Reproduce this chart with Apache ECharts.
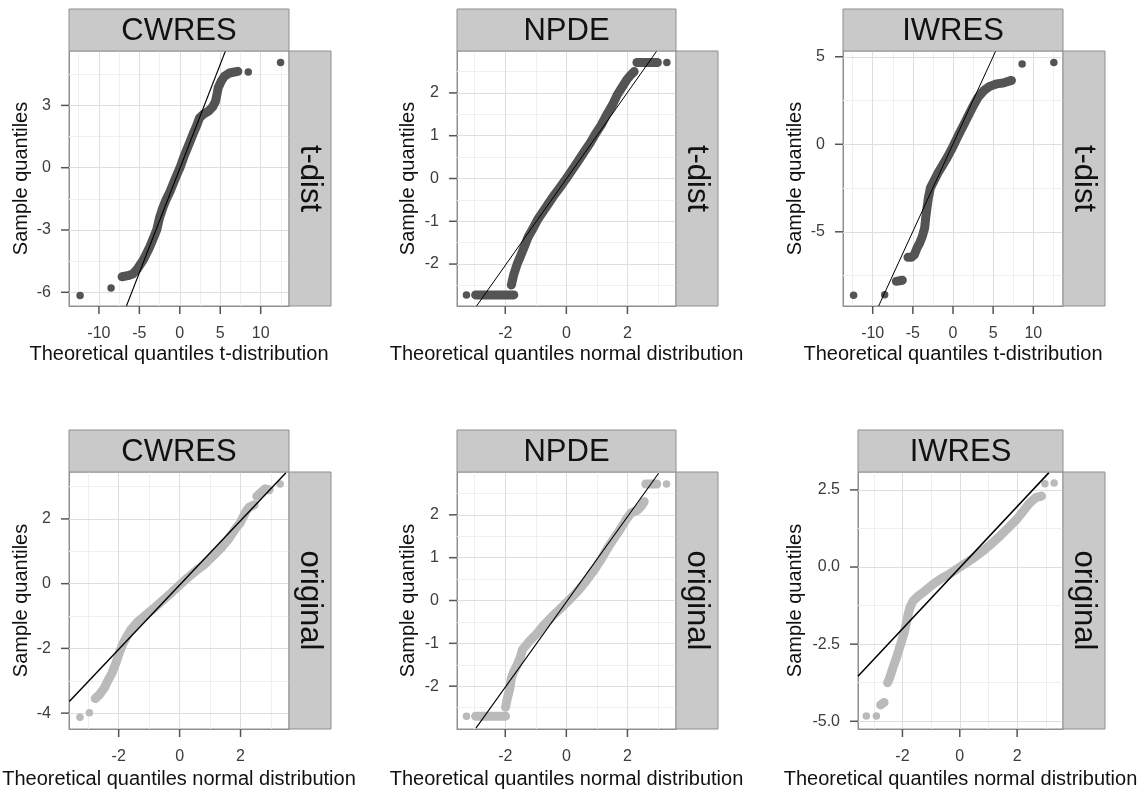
<!DOCTYPE html>
<html>
<head>
<meta charset="utf-8">
<title>QQ plots of residuals</title>
<script src="https://cdn.jsdelivr.net/npm/echarts@6/dist/echarts.min.js"></script>
<style>
  html, body { margin: 0; padding: 0; background: #ffffff; }
  #chart { width: 1142px; height: 792px; }
</style>
</head>
<body>
<div id="chart"></div>
<script>
// ---------- tick breaks ----------
const tdistXMajor = [-10, -5, 0, 5, 10];
const tdistXMinor = [-12.5, -7.5, -2.5, 2.5, 7.5, 12.5];
const normXMajor = [-2, 0, 2];
const normXMinor = [-3, -1, 1, 3];

const cwresTdistYMajor = [-6, -3, 0, 3];
const cwresTdistYMinor = [-4.5, -1.5, 1.5, 4.5];
const npdeYMajor = [-2, -1, 0, 1, 2];
const npdeYMinor = [-2.5, -1.5, -0.5, 0.5, 1.5, 2.5];
const iwresTdistYMajor = [-5, 0, 5];
const iwresTdistYMinor = [-7.5, -2.5, 2.5];
const cwresOrigYMajor = [-4, -2, 0, 2];
const cwresOrigYMinor = [-3, -1, 1, 3];
const iwresOrigYMajor = [-5, -2.5, 0, 2.5];
const iwresOrigYMinor = [-3.75, -1.25, 1.25];

// ---------- CWRES, t-distribution ----------
const cwresTdistRun = [[-7.14,-5.25],[-6.44,-5.2],[-5.82,-5.12],[-5.32,-4.91],[-4.91,-4.67],[-4.5,-4.43],[-3.75,-3.84],[-3.26,-3.39],[-2.85,-2.99],[-2.52,-2.43],[-2.11,-1.94],[-1.70,-1.54],[-1.20,-1.14],[-0.79,-0.74],[-0.33,-0.31],[0.08,0.06],[0.45,0.47],[0.86,0.87],[1.28,1.27],[1.69,1.67],[2.10,2.04],[2.43,2.39],[2.93,2.58],[3.59,2.74],[4.08,2.94],[4.41,3.19],[4.58,3.51],[4.74,3.84],[5.11,4.16],[5.52,4.40],[6.14,4.56],[6.76,4.61],[7.18,4.64]];
const cwresTdistTail = [[-12.33,-6.15],[-8.5,-5.79],[8.46,4.61],[12.46,5.07]];
const cwresTdistRef = [[-6.6,-6.66],[5.64,5.62]];

// ---------- NPDE, t-distribution ----------
const npdeTdistLow = [[-2.97,-2.72],[-2.75,-2.72],[-2.5,-2.72],[-2.25,-2.72],[-2.0,-2.72],[-1.72,-2.72]];
const npdeTdistRun = [[-1.80,-2.49],[-1.72,-2.24],[-1.61,-2.00],[-1.50,-1.81],[-1.39,-1.62],[-1.26,-1.38],[-1.08,-1.15],[-0.93,-0.95],[-0.75,-0.76],[-0.57,-0.57],[-0.38,-0.37],[-0.18,-0.18],[0,0],[0.20,0.21],[0.38,0.40],[0.58,0.62],[0.78,0.83],[0.96,1.05],[1.15,1.26],[1.32,1.49],[1.51,1.72],[1.67,1.96],[1.84,2.15],[1.98,2.31],[2.11,2.42],[2.22,2.50]];
const npdeTdistHigh = [[2.31,2.71],[2.5,2.71],[2.7,2.71],[2.98,2.71]];
const npdeTdistTail = [[-3.27,-2.72],[3.29,2.71]];
const npdeTdistRef = [[-2.94,-2.98],[2.96,2.98]];

// ---------- IWRES, t-distribution ----------
const iwresTdistPair = [[-7.06,-7.83],[-6.31,-7.77]];
const iwresTdistRun = [[-5.61,-6.46],[-5.19,-6.46],[-4.8,-6.3],[-4.49,-5.93],[-4.15,-5.64],[-3.82,-5.26],[-3.53,-4.78],[-3.40,-4.21],[-3.24,-3.64],[-3.07,-3.07],[-2.82,-2.50],[-2.41,-2.12],[-1.87,-1.64],[-1.25,-1.16],[-0.75,-0.78],[-0.20,-0.31],[0.21,0.07],[0.71,0.55],[1.25,1.03],[1.87,1.60],[2.50,2.17],[3.12,2.68],[3.83,3.06],[4.57,3.31],[5.40,3.45],[6.24,3.50],[7.28,3.65]];
const iwresTdistTail = [[-12.38,-8.63],[-8.51,-8.6],[8.61,4.59],[12.56,4.68]];
const iwresTdistRef = [[-9.26,-9.24],[5.32,5.33]];

// ---------- CWRES, original ----------
const cwresOrigRun = [[-2.77,-3.55],[-2.63,-3.43],[-2.47,-3.22],[-2.36,-3.01],[-2.22,-2.76],[-2.09,-2.45],[-1.98,-2.14],[-1.87,-1.88],[-1.76,-1.68],[-1.60,-1.42],[-1.38,-1.18],[-1.10,-0.96],[-0.83,-0.75],[-0.56,-0.52],[-0.28,-0.29],[-0.01,-0.05],[0.26,0.18],[0.54,0.40],[0.81,0.59],[1.08,0.84],[1.36,1.10],[1.63,1.41],[1.85,1.72],[1.98,1.87],[2.07,2.03],[2.18,2.24],[2.28,2.36],[2.45,2.44]];
const cwresOrigHigh = [[2.53,2.70],[2.72,2.86],[2.81,2.93],[2.94,2.90]];
const cwresOrigTail = [[-3.27,-4.13],[-2.96,-3.99],[3.30,3.08]];
const cwresOrigRef = [[-3.62,-3.64],[3.49,3.43]];

// ---------- NPDE, original ----------
const npdeOrigLow = [[-2.97,-2.70],[-2.75,-2.70],[-2.5,-2.70],[-2.25,-2.70],[-1.99,-2.70]];
const npdeOrigRun = [[-1.99,-2.49],[-1.93,-2.28],[-1.85,-2.05],[-1.80,-1.81],[-1.72,-1.66],[-1.61,-1.50],[-1.50,-1.31],[-1.44,-1.15],[-1.22,-0.96],[-0.95,-0.76],[-0.73,-0.57],[-0.46,-0.37],[-0.18,-0.18],[0.09,0.01],[0.36,0.21],[0.63,0.44],[0.91,0.71],[1.13,0.95],[1.35,1.22],[1.56,1.45],[1.78,1.68],[1.95,1.88],[2.11,2.04],[2.33,2.11],[2.44,2.19],[2.55,2.31]];
const npdeOrigHigh = [[2.60,2.72],[2.78,2.72],[2.96,2.72]];
const npdeOrigTail = [[-3.27,-2.70],[3.28,2.72]];
const npdeOrigRef = [[-2.96,-2.98],[3.02,2.97]];

// ---------- IWRES, original ----------
const iwresOrigPair = [[-2.76,-4.47],[-2.64,-4.39]];
const iwresOrigRun = [[-2.52,-3.75],[-2.44,-3.58],[-2.33,-3.26],[-2.21,-2.94],[-2.13,-2.70],[-2.03,-2.40],[-1.94,-2.13],[-1.86,-1.80],[-1.80,-1.53],[-1.74,-1.32],[-1.63,-1.10],[-1.45,-0.94],[-1.22,-0.78],[-0.93,-0.56],[-0.64,-0.37],[-0.35,-0.22],[-0.06,-0.04],[0.23,0.14],[0.52,0.32],[0.81,0.52],[1.10,0.75],[1.40,1.00],[1.69,1.27],[1.98,1.54],[2.21,1.81],[2.44,2.08],[2.67,2.26],[2.85,2.30]];
const iwresOrigTail = [[-3.26,-4.83],[-2.91,-4.83],[2.97,2.70],[3.29,2.72]];
const iwresOrigRef = [[-3.55,-3.54],[3.11,3.06]];

// ---------- styling ----------
const FONT = '"Liberation Sans", Arial, Helvetica, sans-serif';
const DARK = '#545454';
const LIGHT = '#bababa';
const BORDER = '#8f8f8f';
const TICK_LINE = '#555555';
const TICK_LEN = 8;
const TICK_W = 1.5;
const STRIP_FILL = '#c9c9c9';
const MAJOR_GRID = '#dedede';
const MINOR_GRID = '#efefef';
const TICK_TEXT = '#3c3c3c';
const TITLE_TEXT = '#111111';

const T_NAME = 'Theoretical quantiles t-distribution';
const N_NAME = 'Theoretical quantiles normal distribution';

const panels = [
  { title: 'CWRES', facet: 't-dist', box: [69, 51, 220, 255], xRange: [-13.7, 13.5], yRange: [-6.66, 5.62],
    xMajor: tdistXMajor, xMinor: tdistXMinor, yMajor: cwresTdistYMajor, yMinor: cwresTdistYMinor,
    runs: [cwresTdistRun], tail: cwresTdistTail, ref: cwresTdistRef, color: DARK, xName: T_NAME, yGap: 37.5, xGap: 38.5, refWidth: 1.1 },
  { title: 'NPDE', facet: 't-dist', box: [457, 51, 219, 255], xRange: [-3.58, 3.59], yRange: [-2.98, 2.98],
    xMajor: normXMajor, xMinor: normXMinor, yMajor: npdeYMajor, yMinor: npdeYMinor,
    runs: [npdeTdistLow, npdeTdistRun, npdeTdistHigh], tail: npdeTdistTail, ref: npdeTdistRef, color: DARK, xName: N_NAME, yGap: 38.8, xGap: 38.5, refWidth: 1 },
  { title: 'IWRES', facet: 't-dist', box: [843, 51, 220, 255], xRange: [-13.7, 13.7], yRange: [-9.24, 5.33],
    xMajor: tdistXMajor, xMinor: tdistXMinor, yMajor: iwresTdistYMajor, yMinor: iwresTdistYMinor,
    runs: [iwresTdistPair, iwresTdistRun], tail: iwresTdistTail, ref: iwresTdistRef, color: DARK, xName: T_NAME, yGap: 37.8, xGap: 38.5, refWidth: 1 },
  { title: 'CWRES', facet: 'original', box: [69, 472, 220, 257], xRange: [-3.63, 3.59], yRange: [-4.49, 3.45],
    xMajor: normXMajor, xMinor: normXMinor, yMajor: cwresOrigYMajor, yMinor: cwresOrigYMinor,
    runs: [cwresOrigRun, cwresOrigHigh], tail: cwresOrigTail, ref: cwresOrigRef, color: LIGHT, xName: N_NAME, yGap: 37.5, xGap: 40, refWidth: 1.4 },
  { title: 'NPDE', facet: 'original', box: [457, 472, 219, 257], xRange: [-3.58, 3.59], yRange: [-3.0, 3.0],
    xMajor: normXMajor, xMinor: normXMinor, yMajor: npdeYMajor, yMinor: npdeYMinor,
    runs: [npdeOrigLow, npdeOrigRun, npdeOrigHigh], tail: npdeOrigTail, ref: npdeOrigRef, color: LIGHT, xName: N_NAME, yGap: 38.8, xGap: 40, refWidth: 1.1 },
  { title: 'IWRES', facet: 'original', box: [858, 472, 205, 257], xRange: [-3.55, 3.60], yRange: [-5.25, 3.08],
    xMajor: normXMajor, xMinor: normXMinor, yMajor: iwresOrigYMajor, yMinor: iwresOrigYMinor,
    runs: [iwresOrigPair, iwresOrigRun], tail: iwresOrigTail, ref: iwresOrigRef, color: LIGHT, xName: N_NAME, yGap: 52.8, xGap: 40, refWidth: 1.5,
    yFormat: v => Number(v).toFixed(1) }
];

const STRIP_TOP = 42;   // height of the column strip above each panel
const STRIP_SIDE = 42;  // width of the row strip right of each panel

const grids = [], xAxes = [], yAxes = [], series = [], graphics = [];

function inRange(vals, r) { return vals.filter(v => v > r[0] && v < r[1]); }

panels.forEach((p, i) => {
  const [left, top, width, height] = p.box;
  grids.push({
    left: left, top: top, width: width, height: height,
    show: true, backgroundColor: '#ffffff', borderColor: BORDER, borderWidth: 1,
    containLabel: false, outerBoundsMode: 'none'
  });

  const labelStyle = { color: TICK_TEXT, fontSize: 16, fontFamily: FONT };
  const lineStyle = { show: true, onZero: false, lineStyle: { color: BORDER, width: 1 } };

  xAxes.push({
    gridIndex: i, type: 'value', min: p.xRange[0], max: p.xRange[1],
    name: p.xName, nameLocation: 'middle', nameGap: p.xGap,
    nameTextStyle: { color: TITLE_TEXT, fontSize: 20, fontFamily: FONT },
    axisLine: lineStyle,
    axisTick: { show: false },
    axisLabel: Object.assign({ customValues: p.xMajor, margin: 20, formatter: v => String(v) }, labelStyle),
    splitLine: { show: false }, minorTick: { show: false }, minorSplitLine: { show: false }
  });
  yAxes.push({
    gridIndex: i, type: 'value', min: p.yRange[0], max: p.yRange[1],
    name: 'Sample quantiles', nameLocation: 'middle', nameGap: p.yGap, nameRotate: 90,
    nameTextStyle: { color: TITLE_TEXT, fontSize: 20, fontFamily: FONT },
    axisLine: lineStyle,
    axisTick: { show: false },
    axisLabel: Object.assign({ customValues: p.yMajor, margin: 18, formatter: p.yFormat || (v => String(v)) }, labelStyle),
    splitLine: { show: false }, minorTick: { show: false }, minorSplitLine: { show: false }
  });

  // grid lines at minor and major breaks
  const gridLines = []
    .concat(inRange(p.xMinor, p.xRange).map(v => ({ xAxis: v, lineStyle: { color: MINOR_GRID, width: 1, type: 'solid' } })))
    .concat(inRange(p.yMinor, p.yRange).map(v => ({ yAxis: v, lineStyle: { color: MINOR_GRID, width: 1, type: 'solid' } })))
    .concat(inRange(p.xMajor, p.xRange).map(v => ({ xAxis: v, lineStyle: { color: MAJOR_GRID, width: 1, type: 'solid' } })))
    .concat(inRange(p.yMajor, p.yRange).map(v => ({ yAxis: v, lineStyle: { color: MAJOR_GRID, width: 1, type: 'solid' } })));
  series.push({
    type: 'line', xAxisIndex: i, yAxisIndex: i, data: [], silent: true, z: 1,
    markLine: { silent: true, z: 1, symbol: ['none', 'none'], label: { show: false }, animation: false, data: gridLines }
  });

  // dense runs of overlapping points
  p.runs.forEach(run => {
    series.push({
      type: 'line', xAxisIndex: i, yAxisIndex: i, data: run, z: 2, silent: true,
      showSymbol: false, smooth: false,
      lineStyle: { color: p.color, width: 9, cap: 'round', join: 'round' }
    });
  });

  // individual points
  series.push({
    type: 'scatter', xAxisIndex: i, yAxisIndex: i, z: 3, silent: true,
    data: p.runs.flat().concat(p.tail),
    symbol: 'circle', symbolSize: 7.5,
    itemStyle: { color: p.color, opacity: 1 }
  });

  // reference line
  series.push({
    type: 'line', xAxisIndex: i, yAxisIndex: i, data: p.ref, z: 4, silent: true,
    showSymbol: false, clip: true,
    lineStyle: { color: '#000000', width: p.refWidth }
  });

  // column strip (top)
  graphics.push({
    type: 'rect', shape: { x: left, y: top - STRIP_TOP, width: width, height: STRIP_TOP },
    style: { fill: STRIP_FILL, stroke: BORDER, lineWidth: 1 }, z: 10
  });
  graphics.push({
    type: 'text', x: left + width / 2, y: top - STRIP_TOP / 2 + 1, z: 11,
    style: { text: p.title, fill: TITLE_TEXT, font: '31px ' + FONT, align: 'center', verticalAlign: 'middle' }
  });
  // row strip (right)
  graphics.push({
    type: 'rect', shape: { x: left + width, y: top, width: STRIP_SIDE, height: height },
    style: { fill: STRIP_FILL, stroke: BORDER, lineWidth: 1 }, z: 10
  });
  graphics.push({
    type: 'text', x: left + width + STRIP_SIDE / 2, y: top + height / 2, rotation: -Math.PI / 2, z: 11,
    style: { text: p.facet, fill: TITLE_TEXT, font: '31px ' + FONT, align: 'center', verticalAlign: 'middle' }
  });
});

const chart = echarts.init(document.getElementById('chart'), null, { renderer: 'canvas' });
chart.setOption({
  backgroundColor: '#ffffff',
  animation: false,
  grid: grids,
  xAxis: xAxes,
  yAxis: yAxes,
  series: series
});

// outward tick marks at the major breaks, positioned through each axis scale
const tickMarks = [];
panels.forEach((p, i) => {
  const yBase = chart.convertToPixel({ yAxisIndex: i }, p.yRange[0]);
  const xBase = chart.convertToPixel({ xAxisIndex: i }, p.xRange[0]);
  p.xMajor.forEach(v => {
    const px = chart.convertToPixel({ xAxisIndex: i }, v);
    tickMarks.push({
      type: 'rect', z: 12, silent: true,
      shape: { x: px - TICK_W / 2, y: yBase, width: TICK_W, height: TICK_LEN },
      style: { fill: TICK_LINE }
    });
  });
  p.yMajor.forEach(v => {
    const py = chart.convertToPixel({ yAxisIndex: i }, v);
    tickMarks.push({
      type: 'rect', z: 12, silent: true,
      shape: { x: xBase - TICK_LEN, y: py - TICK_W / 2, width: TICK_LEN, height: TICK_W },
      style: { fill: TICK_LINE }
    });
  });
});

chart.setOption({ graphic: { elements: graphics.concat(tickMarks) } });
</script>
</body>
</html>
